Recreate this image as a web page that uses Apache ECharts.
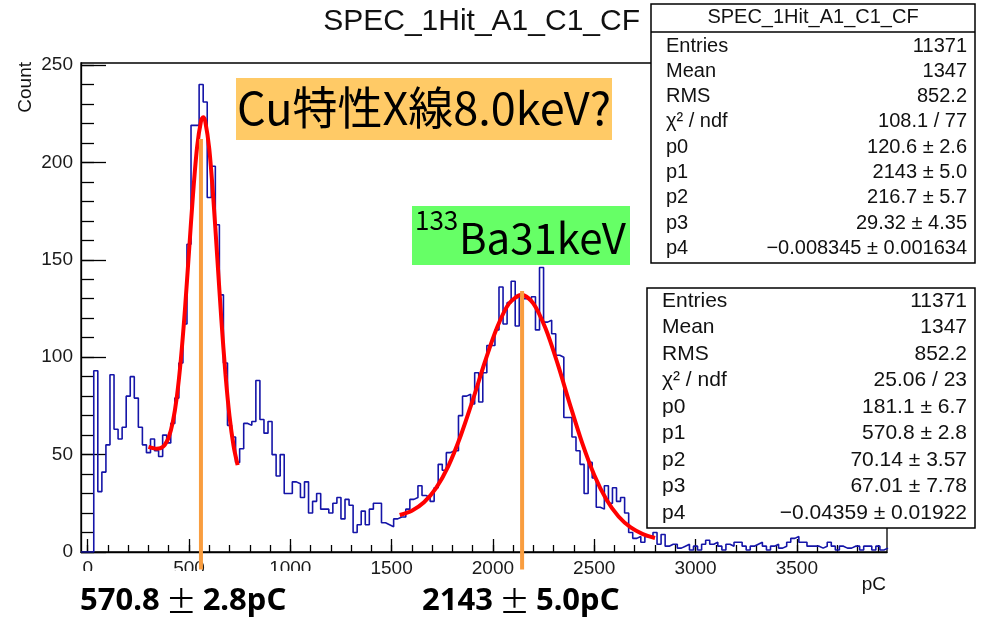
<!DOCTYPE html>
<html><head><meta charset="utf-8">
<script src="https://cdn.jsdelivr.net/npm/echarts@6/dist/echarts.min.js"></script>
<style>html,body{margin:0;padding:0;background:#fff}#c{width:982px;height:618px}</style>
</head><body><div id="c"></div>
<script>
// ---------- data ----------
const chartTitle = 'SPEC_1Hit_A1_C1_CF';
const xTitle = 'pC';
const yTitle = 'Count';
const xTickLabels = [0, 500, 1000, 1500, 2000, 2500, 3000, 3500];
const xMinorTicks = [0,100,200,300,400,500,600,700,800,900,1000,1100,1200,1300,1400,1500,1600,1700,1800,1900,2000,2100,2200,2300,2400,2500,2600,2700,2800,2900,3000,3100,3200,3300,3400,3500,3600,3700,3800,3900];
const yTickLabels = [0, 50, 100, 150, 200, 250];
const yMinorTicks = [0,10,20,30,40,50,60,70,80,90,100,110,120,130,140,150,160,170,180,190,200,210,220,230,240,250];

const histBinStart = 30;   // pC, left edge of first bin
const histBinWidth = 20;   // pC
const histCounts = [
  93,31,41,55,91,63,58,64,80,90,
  79,64,55,51,58,52,49,60,56,66,
  79,97,117,158,219,219,240,231,182,198,
  168,132,97,65,59,46,53,66,65,67,
  88,68,61,67,50,39,50,30,30,36,
  35,28,36,20,26,30,22,22,20,25,
  28,17,27,24,10,14,21,14,22,25,
  25,15,14,13,17,18,18,22,27,28,
  34,29,28,26,33,45,42,51,52,52,
  70,80,81,76,92,77,92,106,106,114,
  136,117,128,139,116,132,130,129,131,114,
  146,118,119,112,101,100,69,69,59,52,
  45,30,46,38,23,22,34,25,33,26,
  28,20,10,7,8,5,8,8,10,4,
  9,3,4,4,2,3,4,1,3,1,
  4,6,4,5,3,1,4,3,5,5,
  3,1,3,4,5,3,1,3,4,2,
  3,5,7,8,5,5,3,3,3,2,
  3,5,3,1,3,2,2,3,3,1,
  3,3,1,3,1,2
];

const fitCuX = [300,320,340,360,380,400,420,440,460,480,500,520,540,560,570,580,600,620,640,660,680,700,720,740];
const fitCuY = [54.0,53.4,53.0,53.3,54.9,58.9,66.7,79.6,99.0,124.4,154.1,183.7,207.9,221.6,223.2,221.2,207.0,181.6,150.4,118.9,91.3,69.7,54.5,44.6];
const fitBaX = [1540,1600,1660,1720,1780,1840,1900,1960,2020,2080,2143,2200,2260,2320,2380,2440,2500,2560,2620,2680,2740,2800];
const fitBaY = [19.0,21.2,25.5,32.9,44.1,59.4,77.8,97.4,115.1,127.6,132.0,127.5,114.7,96.4,75.8,56.1,39.5,26.9,18.2,12.6,9.2,7.2];

const peakLineX = [559, 2144];
const peakLineTop = [212, 134];
const peakLineBottom = -9;
const peakLabels = ['570.8', '2.8pC', '2143', '5.0pC'];

const cuLabel = 'Cu特性X線8.0keV?';
const baMass = '133';
const baLabel = 'Ba31keV';

const statNames = ['Entries', 'Mean', 'RMS', 'χ² / ndf', 'p0', 'p1', 'p2', 'p3', 'p4'];
const statValuesBa = ['11371', '1347', '852.2', '108.1 / 77', '120.6 ± 2.6', '2143 ± 5.0', '216.7 ± 5.7', '29.32 ± 4.35', '−0.008345 ± 0.001634'];
const statValuesCu = ['11371', '1347', '852.2', '25.06 / 23', '181.1 ± 6.7', '570.8 ± 2.8', '70.14 ± 3.57', '67.01 ± 7.78', '−0.04359 ± 0.01922'];

// ---------- build ----------
const X_MIN = -33, X_MAX = 3945, Y_MIN = 0, Y_MAX = 251;
const histPoints = [[X_MIN, 0]];
histCounts.forEach((c, k) => histPoints.push([histBinStart + k * histBinWidth, c]));
histPoints.push([histBinStart + histCounts.length * histBinWidth, histCounts[histCounts.length - 1]]);

const zip = (a, b) => a.map((v, i) => [v, b[i]]);
const FONT = '"Liberation Sans", Arial, sans-serif';
const CJK = '"Noto Sans CJK JP", "Noto Sans", sans-serif';

function txt(x, y, text, size, opt) {
  opt = opt || {};
  return {
    type: 'text', x: x, y: y, z: 100, rotation: opt.rotation || 0,
    style: {
      text: text,
      font: (opt.weight || 'normal') + ' ' + size + 'px ' + (opt.family || FONT),
      fill: opt.color || '#111',
      align: opt.align || 'left', textAlign: opt.align || 'left',
      verticalAlign: 'middle', textVerticalAlign: 'middle',
      rich: opt.rich
    }
  };
}

function statBox(x, y, w, h, y0, step, values, fs, header) {
  const els = [{ type: 'rect', z: 99, shape: { x: x, y: y, width: w, height: h },
    style: { fill: '#fff', stroke: '#000', lineWidth: 1.5 } }];
  if (header) {
    els.push(txt(x + w / 2, y + 13, header, fs, { align: 'center' }));
    els.push({ type: 'line', z: 100, shape: { x1: x, y1: y + 28, x2: x + w, y2: y + 28 },
      style: { stroke: '#000', lineWidth: 1.5 } });
  }
  statNames.forEach((n, i) => {
    els.push(txt(x + 15, y0 + i * step, n, fs));
    els.push(txt(x + w - 8, y0 + i * step, values[i], fs, { align: 'right' }));
  });
  return els;
}

const orange = '#F99D3F';
const boldLabelRich = {
  n: { fontSize: 31, fontWeight: 'bold', fontFamily: '"Noto Sans", sans-serif', fill: '#000' },
  pm: { fontSize: 31, fontWeight: 'normal', fontFamily: CJK, fill: '#000', padding: [0, 6, 0, 6] }
};

const graphics = [].concat(
  [txt(640, 22, chartTitle, 30, { align: 'right' })],
  [txt(26, 62, yTitle, 19, { align: 'right', rotation: Math.PI / 2 })],
  [txt(886, 585, xTitle, 19, { align: 'right' })],
  // gap in frame between stat boxes
  [{ type: 'rect', z: 98, shape: { x: 882, y: 262, width: 10, height: 27 }, style: { fill: '#fff' } }],
  statBox(651, 4, 324, 259, 46, 25.3, statValuesBa, 20, chartTitle),
  statBox(647, 288, 328, 240, 301, 26.5, statValuesCu, 21, null),
  // annotation boxes
  [{ type: 'rect', z: 99, shape: { x: 236, y: 78, width: 376, height: 62 }, style: { fill: '#FFCA66' } }],
  [txt(424, 108, cuLabel, 45, { align: 'center', family: CJK, color: '#000' })],
  [{ type: 'rect', z: 99, shape: { x: 412, y: 206, width: 218, height: 59 }, style: { fill: '#66FF66' } }],
  [txt(415, 220, baMass, 26, { family: CJK, color: '#000' })],
  [txt(459, 238, baLabel, 42, { family: CJK, color: '#000' })],
  // peak value labels
  [{ type: 'rect', z: 99, shape: { x: 76, y: 571, width: 258, height: 47 }, style: { fill: '#fff' } }],
  [txt(80, 601, '{n|' + peakLabels[0] + '}{pm|±}{n|' + peakLabels[1] + '}', 31, { rich: boldLabelRich })],
  [txt(422, 601, '{n|' + peakLabels[2] + '}{pm|±}{n|' + peakLabels[3] + '}', 31, { rich: boldLabelRich })]
);

const axisCommon = {
  type: 'value', min: X_MIN, max: X_MAX, splitLine: { show: false }
};
const labelStyle = { fontSize: 19, fontFamily: FONT, color: '#1a1a1a', formatter: v => String(v) };

const option = {
  animation: false,
  backgroundColor: '#fff',
  grid: { left: 81, right: 95, top: 63, bottom: 66, show: true, borderColor: '#000', borderWidth: 1.3, backgroundColor: 'transparent' },
  xAxis: [
    Object.assign({}, axisCommon, {
      position: 'bottom',
      axisLine: { show: true, onZero: false, lineStyle: { color: '#000', width: 1.3 } },
      axisTick: { show: true, inside: true, length: 13, customValues: xTickLabels, lineStyle: { color: '#000', width: 1.3 } },
      axisLabel: Object.assign({ show: true, margin: 7, customValues: xTickLabels }, labelStyle)
    }),
    Object.assign({}, axisCommon, {
      position: 'bottom', offset: 0,
      axisLine: { show: false, onZero: false },
      axisTick: { show: true, inside: true, length: 7, customValues: xMinorTicks, lineStyle: { color: '#000', width: 1.3 } },
      axisLabel: { show: false }
    })
  ],
  yAxis: [
    {
      type: 'value', min: Y_MIN, max: Y_MAX, position: 'left', splitLine: { show: false },
      axisLine: { show: true, onZero: false, lineStyle: { color: '#000', width: 1.3 } },
      axisTick: { show: true, inside: true, length: 25, customValues: yTickLabels, lineStyle: { color: '#000', width: 1.3 } },
      axisLabel: Object.assign({ show: true, margin: 8, customValues: yTickLabels }, labelStyle)
    },
    {
      type: 'value', min: Y_MIN, max: Y_MAX, position: 'left', offset: 0, splitLine: { show: false },
      axisLine: { show: false, onZero: false },
      axisTick: { show: true, inside: true, length: 13, customValues: yMinorTicks, lineStyle: { color: '#000', width: 1.3 } },
      axisLabel: { show: false }
    }
  ],
  series: [
    { type: 'line', name: 'hist', step: 'end', symbol: 'none', data: histPoints, z: 2,
      lineStyle: { color: '#1515a8', width: 1.6 }, silent: true },
    { type: 'line', name: 'fitCu', smooth: 0.3, symbol: 'none', data: zip(fitCuX, fitCuY), z: 3,
      lineStyle: { color: '#ff0000', width: 4 }, silent: true },
    { type: 'line', name: 'fitBa', smooth: 0.3, symbol: 'none', data: zip(fitBaX, fitBaY), z: 3,
      lineStyle: { color: '#ff0000', width: 4 }, silent: true }
  ].concat(peakLineX.map((x, i) => ({
    type: 'line', name: 'peak' + i, symbol: 'none', clip: false, z: 4, silent: true,
    data: [[x, peakLineTop[i]], [x, peakLineBottom]],
    lineStyle: { color: orange, width: 4 }
  }))),
  graphic: { elements: graphics }
};

const chart = echarts.init(document.getElementById('c'), null, { renderer: 'canvas' });
chart.setOption(option);
</script>
</body></html>
